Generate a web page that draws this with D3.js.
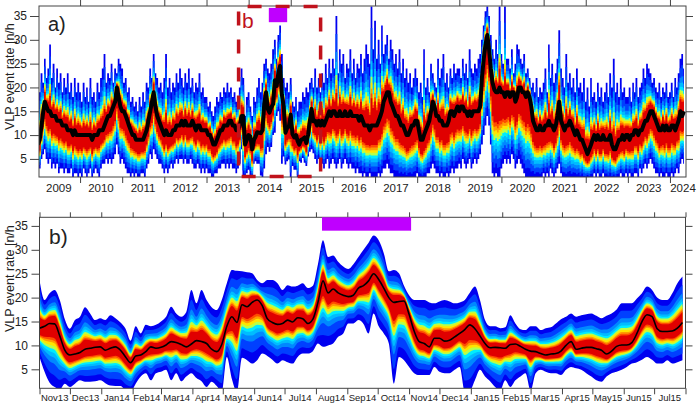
<!DOCTYPE html>
<html>
<head>
<meta charset="utf-8">
<script src="https://cdn.jsdelivr.net/npm/d3@7"></script>
<style>
  body { margin: 0; background: #fff; }
  svg text { font-family: "Liberation Sans", Arial, sans-serif; fill: #222; }
</style>
</head>
<body>
<svg id="chart" width="700" height="404"></svg>
<script>
// ---- panel a: half-monthly samples (1st and 16th of each month) from Jan 2009
const medA = [
  8,9,12,15,17,16, 15,15,14,14,14,13, 13,13,12,12,12,11, 11,11,10,11,10,10,          // 2009
  10,10,10,10,10,10, 10,9,10,10,10,11, 11,11,12,13,14,14, 15,16,17,20,18,16,        // 2010
  15,15,14,13,12,11, 10,10,9,9,9,9, 9,10,11,13,15,17, 19,16,14,13,12,11,            // 2011
  10,11,10,10,10,11, 11,12,12,12,13,12, 13,12,12,12,13,12, 11,12,12,11,11,11,       // 2012
  11,10,10,9,8,8, 9,10,11,11,12,12, 12,13,13,12,12,11, 11,12,14,14,8,9,             // 2013
  10,9.7,7,9,9.6,10.6, 10.5,10.4,11,16.5,19,15.5, 14.7,15.8,16.5,21.5,20.3,23.2, 24.5,18.5,16,10.5,11.5,11.8, // 2014
  14.3,10.2,9.5,10,8.8,8, 9,9.2,9.5,8.3,10.1,13, 15.5,12.9,13,12,13,12, 13,12,13,14,15,14, // 2015
  15,15,14,14,15,14, 14,15,14,14,15,14, 14,14,14,13,14,13, 12,12,12,11,12,12,       // 2016
  12,12,13,14,15,17, 18,19,19,17,16,15, 14,14,13,12,12,11, 10,10,11,12,12,13,       // 2017
  13,11,9,9,10,11, 12,13,15,17,16,14, 14,13,13,12,12,12, 13,15,15,14,15,16,         // 2018
  15,16,16,15,15,14, 15,14,15,15,15,15, 16,22,26,29,31,28, 24,21,19.5,19,19,20,     // 2019
  19,19,18,19,19,18, 19,19,17,18,20,20, 19,19,18,19,18,16, 13,12,11,11,12,11,       // 2020
  11,12,12,13,12,12, 11,12,14,17,13,12, 11,12,12,13,12,11, 10,11,10,9,9,8,          // 2021
  7,6,7,8,9,10, 9,10,9,9,10,9, 9,9,10,8,7,7, 8,9,9,10,9,10,                         // 2022
  10,9,10,10,11,11, 10,11,11,12,13,13, 14,15,15,14,13,12, 11,11,12,11,12,11,        // 2023
  11,12,12,11,12,13, 15,14,15                                                       // 2024
];
const hiA = [
  22,19,23,21,26,22, 24,29,22,25,20,24, 21,23,19,22,20,23, 19,21,18,22,19,21,
  19,17,21,18,20,17, 22,18,19,17,21,19, 22,24,27,21,23,22, 25,21,24,23,26,25,
  24,21,22,19,20,17, 18,16,17,15,18,16, 19,17,21,20,24,22, 27,23,22,20,21,19,
  22,27,20,22,19,21, 20,23,21,24,22,20, 23,21,24,20,22,19, 21,20,23,19,20,18,
  18,16,17,15,14,16, 18,17,19,18,20,19, 21,19,20,18,19,17, 18,20,24,22,14,18,
  19,16,14,18,17,20, 22,19,21,25,26,24, 23,25,28,30,26,31, 33,27,22,20,21,19,
  22,17,16,18,15,17, 17,19,18,20,19,21, 22,20,24,20,22,19, 23,21,25,22,26,23,
  26,24,35,23,28,25, 27,22,25,24,28,23, 26,22,25,24,27,23, 26,29,27,25,37,28,
  34,26,30,25,33,27, 29,31,26,30,28,25, 27,24,28,23,26,22, 24,21,23,20,22,24,
  22,19,21,18,28,20, 22,19,25,23,21,20, 26,22,24,27,21,23, 20,24,22,25,23,24,
  24,22,26,23,25,22, 28,24,23,25,24,26, 27,30,33,36,37,35, 31,28,26,30,27,37,
  27,25,37,26,26,24, 28,23,25,29,28,26, 25,27,23,24,22,20, 21,19,22,18,20,19,
  21,24,19,29,22,25, 21,23,26,32,24,22, 20,27,21,23,20,22, 19,24,20,21,19,22,
  17,20,16,22,18,19, 17,21,18,20,17,19, 21,18,23,20,26,19, 21,18,22,19,20,18,
  18,20,17,21,19,22, 18,20,21,24,22,25, 24,23,21,22,20,19, 21,18,20,19,21,18,
  19,21,18,22,20,23, 26,27,24
];
const loA = [
  2,3,5,6,7,5, 4,5,3,4,3,4, 2,3,3,2,3,2, 2,3,1,2,2,1,
  2,1,3,2,1,2, 3,1,2,3,2,1, 3,4,4,5,4,5, 4,5,6,8,6,4,
  5,4,3,2,2,1, 2,1,2,1,1,2, 2,1,3,4,6,5, 7,6,5,4,4,3,
  2,3,2,3,4,3, 4,5,4,5,5,4, 5,4,4,5,4,3, 3,4,3,2,3,2,
  3,2,2,1,1,2, 2,3,3,4,4,3, 4,3,4,3,3,2, 3,4,7,1,1,2,
  2.7,1.5,0.5,4,4.5,4, 4,1.5,1,3,6,7.5, 6.5,7.5,10,10.5,14,15, 13,4,5.5,3.8,4.5,4.9,
  0.5,3.5,2.7,2.7,0.6,4.5, 4.2,5.2,4.2,3.5,5.5,6.5, 7,6.2,5,4,5,3, 4,3,4,5,3,4,
  5,4,3,4,5,3, 4,5,4,3,4,3, 3,2,3,2,2,1, 2,1,1,2,1,1,
  1,1,2,1,2,3, 3,4,3,2,2,1, 1,1,0.5,1,0.5,1, 0.5,1,1,0.5,1,1,
  2,1,1,0.5,1,1, 2,2,3,4,3,2, 2,1,2,1,1,2, 1,2,3,2,3,3,
  4,3,5,4,3,4, 5,3,4,5,4,5, 6,8,10,12,14,12, 8,2,1,2,1,1,
  3,4,5,4,5,4, 6,5,3,4,5,4, 3,2,1,1,1,0.5, 1,0.5,1,1,0.5,1,
  2,1,2,1,3,2, 1,2,3,4,2,1, 1,0.5,1,1,0.5,1, 1,0.5,1,0.5,1,0.5,
  0.5,1,0.5,1,1,2, 1,2,1,1,2,1, 1,0.5,1,0.5,1,0.5, 1,1,2,1,1,2,
  1,2,1,1,2,2, 1,3,2,3,4,3, 4,5,4,3,2,2, 1,2,1,1,2,1,
  1,2,1,2,3,2, 4,5,4
];

// ---- panel b: one sample every 5 days from 1 Nov 2013
const medB = [
  13.6,14.0,14.6,14.5,12.0,9.0,          // Nov13
  8.0,8.2,8.5,9.2,9.4,9.6,9.7,           // Dec13
  9.0,9.4,9.7,9.0,7.6,6.4,               // Jan14
  7.8,8.0,8.7,9.7,9.4,                   // Feb14
  9.6,10.1,10.8,10.6,10.2,9.7,10.3,      // Mar14
  11.0,10.8,10.4,9.2,8.7,10.2,           // Apr14
  14.0,16.0,14.8,18.5,18.1,19.0,         // May14
  19.5,18.3,15.6,14.8,14.4,14.6,         // Jun14
  15.3,14.9,15.8,15.6,14.6,15.5,         // Jul14
  19.0,23.5,21.0,21.8,21.0,20.5,         // Aug14
  20.2,20.5,22.0,22.5,23.5,25.0,         // Sep14
  23.8,22.0,20.0,19.0,19.2,19.3,         // Oct14
  16.5,13.0,10.8,10.4,9.7,11.5,          // Nov14
  11.5,10.9,11.1,11.8,12.5,13.3,14.3,    // Dec14
  13.5,12.0,10.4,9.5,9.6,9.5,            // Jan15
  9.4,10.2,10.3,9.8,9.2,8.8,             // Feb15
  8.7,8.3,8.0,8.2,8.3,8.8,               // Mar15
  10.0,10.8,9.2,9.4,9.6,9.6,             // Apr15
  9.3,9.0,8.2,8.8,9.8,10.1,              // May15
  10.1,10.6,12.5,15.0,16.4,16.0,         // Jun15
  13.5,12.9,12.9,13.0,13.6,14.8          // Jul15
];
const hiB = [
  23.7,19.5,20.9,21.6,19.5,15.5,
  13.5,15.3,16.0,18.0,16.7,15.3,15.7,
  15.3,16.3,15.7,14.8,13.5,11.0,
  14.0,12.5,14.3,14.0,14.3,
  15.0,16.0,18.1,16.7,16.0,17.0,21.6,
  18.8,21.6,19.5,18.0,17.4,19.5,
  23.0,25.8,25.6,25.5,25.3,25.1,
  23.7,23.0,23.7,23.7,23.0,21.6,
  22.6,22.3,22.5,23.0,22.0,22.5,
  27.0,32.0,28.5,28.8,27.5,26.5,
  26.0,27.0,28.5,30.0,31.5,33.0,
  32.0,29.3,25.5,25.8,25.1,22.5,
  20.5,19.5,19.5,19.5,19.0,18.8,
  19.2,19.5,19.2,18.8,19.0,19.5,21.0,
  22.3,19.5,15.3,14.0,14.0,13.6,
  13.8,16.3,14.6,13.4,13.2,14.0,
  14.0,13.2,13.6,13.8,14.6,15.5,
  16.0,16.7,16.0,16.3,16.5,16.7,
  16.2,15.7,16.2,16.7,17.5,18.8,
  18.8,18.8,19.8,20.9,22.3,21.6,
  20.0,19.5,19.5,20.9,23.0,24.4
];
const loB = [
  7.6,4.5,2.2,1.3,0.8,2.0,
  1.3,2.0,2.7,2.4,2.4,2.5,2.7,
  2.1,1.6,1.5,1.5,0.6,0.3,
  2.0,3.5,4.2,2.7,4.2,
  4.5,4.9,2.7,4.2,2.5,3.5,4.2,
  3.2,2.5,1.3,2.4,1.5,0.3,
  7.6,3.0,0.3,7.4,6.9,6.2,
  6.9,8.3,7.8,7.0,6.2,6.9,
  6.5,6.2,7.6,8.3,8.3,8.8,
  10.4,9.7,10.0,10.4,11.8,12.5,
  14.6,14.6,15.3,14.5,12.5,16.7,
  14.0,12.5,10.4,2.0,7.6,6.9,
  5.5,4.2,3.8,3.8,3.8,5.5,
  4.5,4.2,4.2,4.9,5.5,0.3,0.5,
  2.7,4.9,3.5,2.5,1.3,0.6,
  2.7,1.3,2.7,3.5,4.2,0.6,
  4.2,4.9,4.5,4.2,4.2,3.8,
  4.9,5.5,5.2,4.9,4.2,3.5,
  2.7,2.4,3.5,4.2,4.5,4.9,
  5.5,6.2,6.5,7.0,7.6,7.0,
  6.2,6.2,6.9,6.2,6.5,6.9
];

// ---- labels and markers
const yTicks = [5, 10, 15, 20, 25, 30, 35];
const yearLabels = ["2009","2010","2011","2012","2013","2014","2015","2016",
                    "2017","2018","2019","2020","2021","2022","2023","2024"];
const monthLabels = ["Nov13","Dec13","Jan14","Feb14","Mar14","Apr14","May14","Jun14",
                     "Jul14","Aug14","Sep14","Oct14","Nov14","Dec14","Jan15","Feb15",
                     "Mar15","Apr15","May15","Jun15","Jul15"];
const activityA = ["2014-06-25", "2014-12-01"];
const activityB = ["2014-08-07", "2014-11-03"];
const zoomWindow = ["2013-10-06", "2015-09-17"];

// fan: fraction of the way from median to envelope, outer to inner
const bandLevels = [1.0, 0.82, 0.64, 0.54, 0.47, 0.41, 0.36, 0.31, 0.27, 0.23];
// the long record is skewed: its low side keeps the warm colours further down
const bandLevelsLowA = [1.0, 0.88, 0.78, 0.7, 0.63, 0.57, 0.52, 0.47, 0.42, 0.37];
const bandColors = ["#0000f0","#0040ff","#0088ff","#00bcff","#00ecff",
                    "#b8ff48","#ffe400","#ff9c00","#ff4c00","#e00000"];

const parse = d3.timeParse("%Y-%m-%d");
const datesA = medA.map((d, i) => new Date(2009 + Math.floor(i / 24), Math.floor((i % 24) / 2), i % 2 ? 16 : 1));
const datesB = medB.map((d, i) => d3.timeDay.offset(new Date(2013, 10, 1), 5 * i));

const svg = d3.select("#chart");
const frameColor = "#444";

function drawFan(g, dates, med, hi, lo, x, y, opts) {
  bandLevels.forEach((f, k) => {
    const fl = opts.lowLevels[k];
    const area = d3.area()
      .x((d, i) => x(dates[i]))
      .y0((d, i) => y(med[i] - fl * (med[i] - lo[i])))
      .y1((d, i) => y(med[i] + f * (hi[i] - med[i])))
      .curve(opts.bandCurve);
    g.append("path").datum(med).attr("d", area).attr("fill", bandColors[k]);
  });
  const line = d3.line()
    .x((d, i) => x(dates[i]))
    .y(d => y(d))
    .curve(opts.lineCurve);
  g.append("path").datum(med).attr("d", line)
    .attr("fill", "none").attr("stroke", "#000")
    .attr("stroke-width", opts.lineWidth).attr("stroke-linejoin", "round");
}

function styleAxis(g) {
  g.select(".domain").remove();
  g.selectAll(".tick line").attr("stroke", frameColor);
  g.selectAll(".tick text").style("font-size", "12px").attr("fill", "#222");
}

// =================== panel a ===================
const A = { left: 39, right: 686, top: 6, bottom: 177 };
const xA = d3.scaleTime().domain([parse("2009-01-10"), parse("2024-05-19")]).range([A.left, A.right]);
const yA = d3.scaleLinear().domain([1.2, 37.1]).range([A.bottom, A.top]);

svg.append("clipPath").attr("id", "clipA").append("rect")
  .attr("x", A.left).attr("y", A.top).attr("width", A.right - A.left).attr("height", A.bottom - A.top);
const gA = svg.append("g").attr("clip-path", "url(#clipA)");
drawFan(gA, datesA, medA, hiA, loA, xA, yA, {
  lowLevels: bandLevelsLowA, bandCurve: d3.curveStep, lineCurve: d3.curveLinear, lineWidth: 4
});

const yearStarts = d3.range(2010, 2025).map(y => new Date(y, 0, 1));
svg.append("g").attr("transform", `translate(${A.left},0)`)
  .call(d3.axisLeft(yA).tickValues(yTicks).tickSize(9).tickPadding(3)).call(styleAxis);
svg.append("g").attr("transform", `translate(${A.right},0)`)
  .call(d3.axisRight(yA).tickValues(yTicks).tickSize(7).tickFormat("")).call(styleAxis);
svg.append("g").attr("transform", `translate(0,${A.bottom})`)
  .call(d3.axisBottom(xA).tickValues(yearStarts).tickSize(6).tickFormat("")).call(styleAxis);
svg.append("g").attr("transform", `translate(0,${A.top})`)
  .call(d3.axisTop(xA).tickValues(yearStarts).tickSize(6).tickFormat("")).call(styleAxis);

svg.append("g").selectAll("text").data(yearLabels).join("text")
  .attr("x", d => Math.min(xA(new Date(+d, 6, 1)), 683))
  .attr("y", 192)
  .attr("text-anchor", "middle")
  .style("font-size", "11.5px")
  .text(d => d);

svg.append("rect")
  .attr("x", A.left).attr("y", A.top).attr("width", A.right - A.left).attr("height", A.bottom - A.top)
  .attr("fill", "none").attr("stroke", frameColor).attr("stroke-width", 1);

// zoom window of panel b
svg.append("rect")
  .attr("x", xA(parse(zoomWindow[0]))).attr("y", A.top + 0.5)
  .attr("width", xA(parse(zoomWindow[1])) - xA(parse(zoomWindow[0])))
  .attr("height", A.bottom - A.top - 1)
  .attr("fill", "none").attr("stroke", "#c0121c").attr("stroke-width", 3.5)
  .attr("stroke-dasharray", "14,14").attr("stroke-dashoffset", 19);

svg.append("text").attr("x", 242).attr("y", 28)
  .style("font-size", "21px").style("fill", "#c0121c").text("b");

svg.append("rect")
  .attr("x", xA(parse(activityA[0]))).attr("y", yA(36.7))
  .attr("width", xA(parse(activityA[1])) - xA(parse(activityA[0])))
  .attr("height", yA(33.7) - yA(36.7))
  .attr("fill", "#bf00ff");

svg.append("text").attr("x", 48).attr("y", 30.5).style("font-size", "20px").text("a)");
svg.append("text")
  .attr("transform", "translate(14,130) rotate(-90)")
  .style("font-size", "12.5px").text("VLP event rate [n/h");

// =================== panel b ===================
const B = { left: 39.5, right: 685.5, top: 217.3, bottom: 388.3 };
const xB = d3.scaleTime().domain([new Date(2013, 10, 1), new Date(2015, 7, 1)]).range([B.left, B.right]);
const yB = d3.scaleLinear().domain([1.03, 36.8]).range([B.bottom, B.top]);

svg.append("clipPath").attr("id", "clipB").append("rect")
  .attr("x", B.left).attr("y", B.top).attr("width", B.right - B.left).attr("height", B.bottom - B.top);
const gB = svg.append("g").attr("clip-path", "url(#clipB)");
drawFan(gB, datesB, medB, hiB, loB, xB, yB, {
  lowLevels: bandLevels, bandCurve: d3.curveMonotoneX, lineCurve: d3.curveMonotoneX, lineWidth: 1.6
});

const monthStarts = d3.timeMonth.range(new Date(2013, 10, 1), new Date(2015, 7, 2));
svg.append("g").attr("transform", `translate(${B.left},0)`)
  .call(d3.axisLeft(yB).tickValues(yTicks).tickSize(8).tickPadding(3.5)).call(styleAxis);
svg.append("g").attr("transform", `translate(${B.right},0)`)
  .call(d3.axisRight(yB).tickValues(yTicks).tickSize(7).tickFormat("")).call(styleAxis);
svg.append("g").attr("transform", `translate(0,${B.bottom})`)
  .call(d3.axisBottom(xB).tickValues(monthStarts).tickSize(6).tickFormat("")).call(styleAxis);
svg.append("g").attr("transform", `translate(0,${B.top})`)
  .call(d3.axisTop(xB).tickValues(monthStarts).tickSize(5).tickFormat("")).call(styleAxis);

svg.append("g").selectAll("text").data(monthLabels).join("text")
  .attr("x", (d, i) => (xB(monthStarts[i]) + xB(monthStarts[i + 1])) / 2)
  .attr("y", 401)
  .attr("text-anchor", "middle")
  .style("font-size", "9.5px")
  .text(d => d);

svg.append("rect")
  .attr("x", B.left).attr("y", B.top).attr("width", B.right - B.left).attr("height", B.bottom - B.top)
  .attr("fill", "none").attr("stroke", frameColor).attr("stroke-width", 1);

svg.append("rect")
  .attr("x", xB(parse(activityB[0]))).attr("y", yB(36.8))
  .attr("width", xB(parse(activityB[1])) - xB(parse(activityB[0])))
  .attr("height", yB(34) - yB(36.8))
  .attr("fill", "#bf00ff");

svg.append("text").attr("x", 49).attr("y", 244).style("font-size", "21px").text("b)");
svg.append("text")
  .attr("transform", "translate(14,332) rotate(-90)")
  .style("font-size", "12.5px").text("VLP event rate [n/h");
</script>
</body>
</html>
